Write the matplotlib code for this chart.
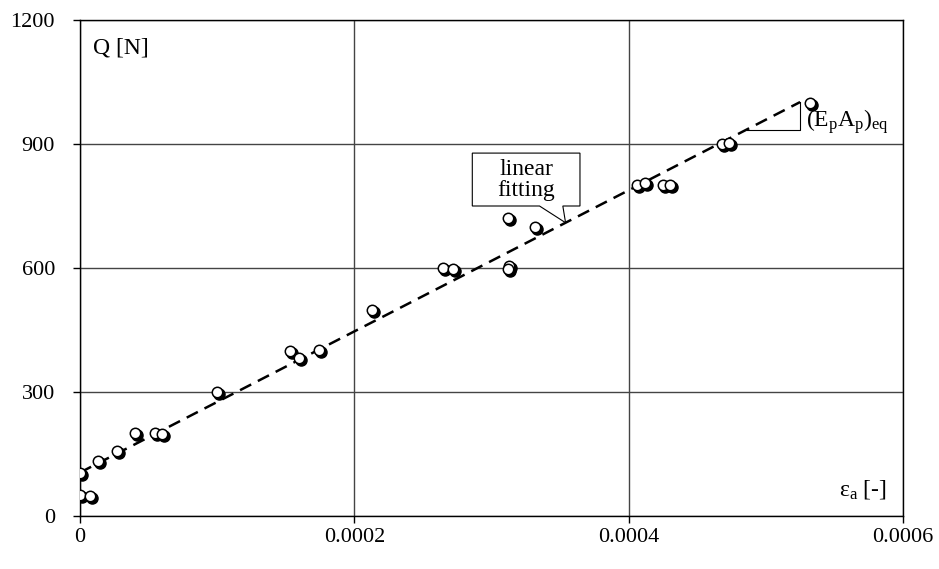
import matplotlib
matplotlib.use('Agg')
import matplotlib.pyplot as plt
import matplotlib.transforms as mtransforms
from matplotlib.patches import Polygon
import numpy as np

plt.rcParams['font.family'] = ['Liberation Serif', 'DejaVu Serif']
plt.rcParams['mathtext.fontset'] = 'custom'
plt.rcParams['mathtext.rm'] = 'Liberation Serif'
plt.rcParams['mathtext.it'] = 'Liberation Serif:italic'

# measured points (strain, load)
eps = [0.0, 0.0000073, 0.0, 0.0000134, 0.0000267, 0.00004, 0.0000547, 0.0000595,
       0.0000996, 0.000153, 0.00016, 0.000174, 0.000213, 0.000265, 0.000272,
       0.000312, 0.000313, 0.000312, 0.000332, 0.000406, 0.000412, 0.000425,
       0.00043, 0.000468, 0.000473, 0.000532]
Q = [50, 48, 103, 133, 157, 200, 200, 198, 300, 400, 383, 402, 498, 600, 598,
     720, 605, 598, 698, 800, 805, 800, 800, 900, 902, 1000]

xticks = [0, 0.0002, 0.0004, 0.0006]
xtick_labels = ['0', '0.0002', '0.0004', '0.0006']
yticks = [0, 300, 600, 900, 1200]

fig = plt.figure(figsize=(9.39, 5.69), dpi=100)
ax = fig.add_axes([80 / 939, 53 / 569, 823 / 939, 496 / 569])

# linear fit
slope, icpt = np.polyfit(eps, Q, 1)
x_line = np.array([0.0, 0.000525])
ax.plot(x_line, slope * x_line + icpt, color='black', lw=1.8,
        linestyle=(0, (5, 3)), zorder=2)

# markers: black shadow + white circle
shadow = mtransforms.offset_copy(ax.transData, fig=fig, x=2, y=-2, units='dots')
ax.plot(eps, Q, 'o', ms=8, color='black', transform=shadow, zorder=3)
ax.plot(eps, Q, 'o', ms=7.5, mfc='white', mec='black', mew=1.1, zorder=4)

# slope triangle
x0, x1 = 0.000486, 0.000525
ax.plot([x0, x1, x1], [slope * x0 + icpt, slope * x0 + icpt, slope * x1 + icpt],
        color='black', lw=0.8, zorder=2)
ax.text(0.000529, 955, r'$\mathregular{(E_pA_p)_{eq}}$', fontsize=17,
        ha='left', va='center')

# callout "linear fitting"
tip_x = 0.000354
tip_y = slope * tip_x + icpt
bx_l, bx_r, by_b, by_t = 0.000286, 0.0003645, 750, 878
callout = Polygon([(bx_l, by_t), (bx_r, by_t), (bx_r, by_b), (0.000352, by_b),
                   (tip_x, tip_y), (0.000335, by_b), (bx_l, by_b)],
                  closed=True, facecolor='white', edgecolor='black', lw=0.8, zorder=5)
ax.add_patch(callout)
ax.text((bx_l + bx_r) / 2, (by_b + by_t) / 2, 'linear\nfitting', fontsize=17,
        ha='center', va='center', linespacing=1.0, zorder=6)

ax.text(0.0000095, 1132, 'Q [N]', fontsize=17, ha='left', va='center')
ax.text(0.000588, 63, r'$\mathregular{ε_a}$ [-]', fontsize=17, ha='right', va='center')

ax.set_xlim(0, 0.0006)
ax.set_ylim(0, 1200)
ax.set_xticks(xticks)
ax.set_xticklabels(xtick_labels)
ax.set_yticks(yticks)
ax.tick_params(direction='out', length=5, width=1, labelsize=16, color='black')
ax.tick_params(axis='y', pad=13)
ax.tick_params(axis='x', pad=4)
ax.grid(True, color='#444444', lw=1)
ax.set_axisbelow(True)
for s in ax.spines.values():
    s.set_color('black')
    s.set_linewidth(1)

fig.savefig('out.png', dpi=100)
